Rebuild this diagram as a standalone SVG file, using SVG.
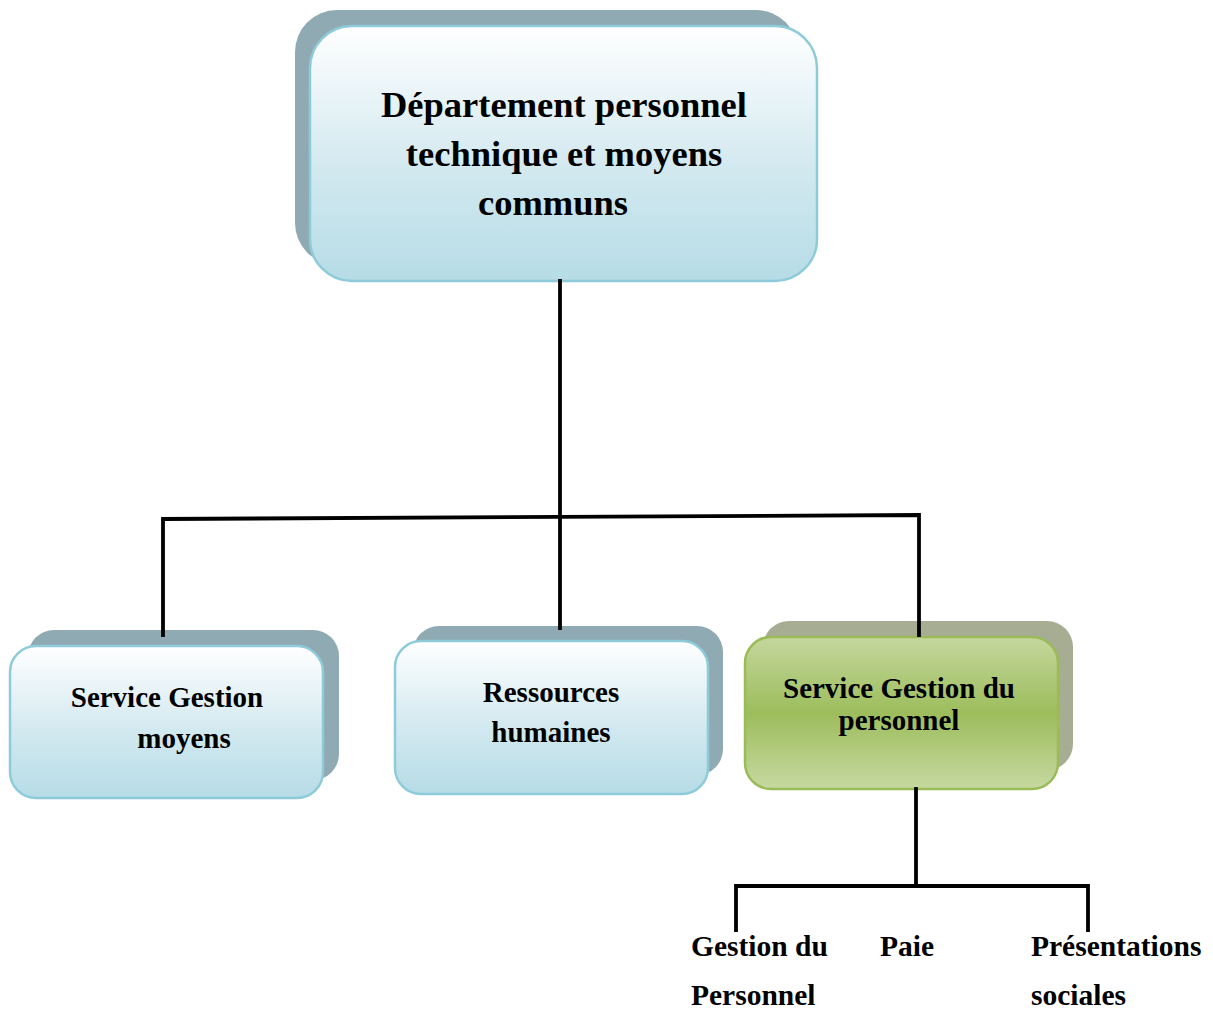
<svg xmlns="http://www.w3.org/2000/svg" width="1213" height="1009" viewBox="0 0 1213 1009">
  <defs>
    <linearGradient id="blueFill" x1="0" y1="0" x2="0" y2="1">
      <stop offset="0" stop-color="#ffffff"/>
      <stop offset="0.55" stop-color="#d3e9f0"/>
      <stop offset="1" stop-color="#b6dce6"/>
    </linearGradient>
    <linearGradient id="greenFill" x1="0" y1="0" x2="0" y2="1">
      <stop offset="0" stop-color="#c4d79d"/>
      <stop offset="0.5" stop-color="#9dbd5c"/>
      <stop offset="1" stop-color="#c6d9a0"/>
    </linearGradient>
    <style>
      .shadowBlue { fill: #8faab2; }
      .shadowGreen { fill: #a7ad92; }
      .boxBlue { fill: url(#blueFill); stroke: #8ecbda; stroke-width: 2.5; }
      .boxGreen { fill: url(#greenFill); stroke: #9bbb59; stroke-width: 2.5; }
      .lbl { font-family: "Liberation Serif", "Times New Roman", serif; font-weight: bold; fill: #000; }
      .big { font-size: 36.5px; }
      .mid { font-size: 29px; }
      .leaf { font-size: 29.5px; }
      .wire { stroke: #000; stroke-width: 3.8; fill: none; stroke-linecap: square; }
    </style>
  </defs>

  <!-- top department -->
  <g id="node-departement">
    <rect class="shadowBlue" x="295" y="10" width="503" height="255" rx="42"/>
    <rect class="boxBlue" x="310" y="26" width="507" height="255" rx="42"/>
    <text class="lbl big" x="564" y="117" text-anchor="middle">Département personnel</text>
    <text class="lbl big" x="564" y="166" text-anchor="middle">technique et moyens</text>
    <text class="lbl big" x="553" y="215" text-anchor="middle">communs</text>
  </g>

  <g id="node-moyens">
    <rect class="shadowBlue" x="28" y="630" width="311" height="150" rx="26"/>
    <rect class="boxBlue" x="10" y="646" width="313" height="152" rx="26"/>
    <text class="lbl mid" x="167" y="707" text-anchor="middle">Service Gestion</text>
    <text class="lbl mid" x="184" y="748" text-anchor="middle">moyens</text>
  </g>

  <g id="node-rh">
    <rect class="shadowBlue" x="413" y="626" width="310" height="149" rx="26"/>
    <rect class="boxBlue" x="395" y="641" width="313" height="153" rx="26"/>
    <text class="lbl mid" x="551" y="702" text-anchor="middle">Ressources</text>
    <text class="lbl mid" x="551" y="742" text-anchor="middle">humaines</text>
  </g>

  <g id="node-personnel">
    <rect class="shadowGreen" x="763" y="621" width="310" height="149" rx="26"/>
    <rect class="boxGreen" x="745" y="637" width="313" height="152" rx="26"/>
    <text class="lbl mid" x="899" y="698" text-anchor="middle">Service Gestion du</text>
    <text class="lbl mid" x="899" y="730" text-anchor="middle">personnel</text>
  </g>

  <g id="leaf-gestion">
    <text class="lbl leaf" x="691" y="956">Gestion du</text>
    <text class="lbl leaf" x="691" y="1005">Personnel</text>
  </g>
  <g id="leaf-paie">
    <text class="lbl leaf" x="880" y="956">Paie</text>
  </g>
  <g id="leaf-prestations">
    <text class="lbl leaf" x="1031" y="956">Présentations</text>
    <text class="lbl leaf" x="1031" y="1005">sociales</text>
  </g>

  <!-- connectors, drawn last so the drops sit over the node shadows -->
  <g id="connectors">
    <path class="wire" d="M560 281 V628"/>
    <path class="wire" d="M163 635 V519 L919 515 V635"/>
    <path class="wire" d="M916 789 V886"/>
    <path class="wire" d="M736 930 V886 H1088 V930"/>
  </g>
</svg>
